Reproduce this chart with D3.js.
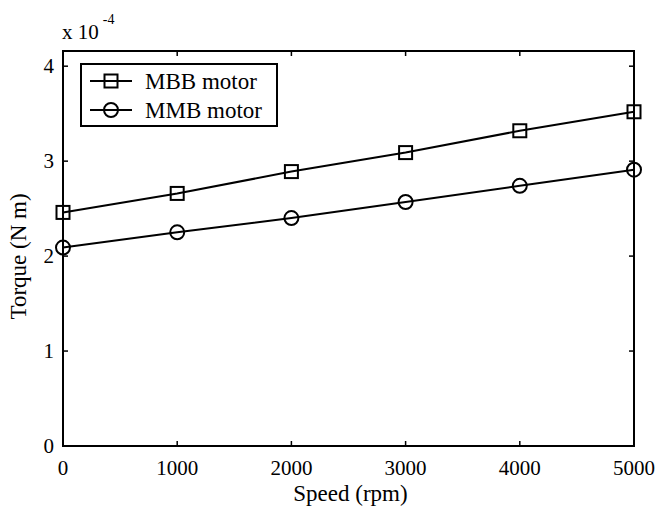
<!DOCTYPE html>
<html>
<head>
<meta charset="utf-8">
<script src="https://cdn.jsdelivr.net/npm/d3@7"></script>
<style>
  body { margin: 0; background: #fff; }
  text { font-family: "Liberation Serif", "DejaVu Serif", serif; fill: #000; }
</style>
</head>
<body>
<svg id="chart" width="655" height="506"></svg>
<script>
// speed (rpm)
const speeds = [0, 1000, 2000, 3000, 4000, 5000];
// torque x 1e-4 N m
const mbbTorque = [2.46, 2.66, 2.89, 3.09, 3.32, 3.52];
const mmbTorque = [2.09, 2.25, 2.40, 2.57, 2.74, 2.91];
const xTicks = [0, 1000, 2000, 3000, 4000, 5000];
const yTicks = [0, 1, 2, 3, 4];
const seriesNames = ['MBB motor', 'MMB motor'];

const svg = d3.select('#chart');
const plotLeft = 63, plotRight = 634, plotTop = 51, plotBottom = 446;

const x = d3.scaleLinear().domain([0, 5000]).range([plotLeft, plotRight]);
const y = d3.scaleLinear().domain([0, 4.16]).range([plotBottom, plotTop]);

// box
svg.append('rect')
    .attr('x', plotLeft).attr('y', plotTop)
    .attr('width', plotRight - plotLeft).attr('height', plotBottom - plotTop)
    .attr('fill', 'none').attr('stroke', '#000').attr('stroke-width', 2);

// inner ticks
const tickLen = 5;
const g = svg.append('g').attr('stroke', '#000').attr('stroke-width', 1.5);
xTicks.slice(1, -1).forEach(t => {
    g.append('line').attr('x1', x(t)).attr('x2', x(t)).attr('y1', plotBottom).attr('y2', plotBottom - tickLen);
    g.append('line').attr('x1', x(t)).attr('x2', x(t)).attr('y1', plotTop).attr('y2', plotTop + tickLen);
});
yTicks.slice(1).forEach(t => {
    g.append('line').attr('y1', y(t)).attr('y2', y(t)).attr('x1', plotLeft).attr('x2', plotLeft + tickLen);
    g.append('line').attr('y1', y(t)).attr('y2', y(t)).attr('x1', plotRight).attr('x2', plotRight - tickLen);
});

// tick labels
svg.append('g').selectAll('text').data(xTicks).join('text')
    .attr('x', d => x(d)).attr('y', plotBottom + 29)
    .attr('text-anchor', 'middle').attr('font-size', 21)
    .text(d => d);
svg.append('g').selectAll('text').data(yTicks).join('text')
    .attr('x', plotLeft - 9).attr('y', d => y(d) + 7)
    .attr('text-anchor', 'end').attr('font-size', 21)
    .text(d => d);

// exponent label
const ex = svg.append('text').attr('x', plotLeft - 1).attr('y', 39).attr('font-size', 21);
ex.append('tspan').text('x 10');
ex.append('tspan').attr('dx', 4).attr('dy', -15).attr('font-size', 14).text('-4');

// axis titles
svg.append('text').attr('x', (plotLeft + plotRight) / 2 + 2).attr('y', 501)
    .attr('text-anchor', 'middle').attr('font-size', 23).text('Speed (rpm)');
svg.append('text')
    .attr('transform', `translate(26,${(plotTop + plotBottom) / 2 + 8}) rotate(-90)`)
    .attr('text-anchor', 'middle').attr('font-size', 23).text('Torque (N m)');

const line = d3.line().x((d, i) => x(speeds[i])).y(d => y(d));

function drawMarker(sel, kind, cx, cy) {
    if (kind === 'square') {
        sel.append('rect').attr('x', cx - 6.5).attr('y', cy - 6.5)
            .attr('width', 13).attr('height', 13)
            .attr('fill', 'none').attr('stroke', '#000').attr('stroke-width', 2);
    } else {
        sel.append('circle').attr('cx', cx).attr('cy', cy).attr('r', 7)
            .attr('fill', 'none').attr('stroke', '#000').attr('stroke-width', 2);
    }
}

[[mbbTorque, 'square'], [mmbTorque, 'circle']].forEach(([vals, kind]) => {
    svg.append('path').datum(vals).attr('d', line)
        .attr('fill', 'none').attr('stroke', '#000').attr('stroke-width', 2);
    const mg = svg.append('g');
    vals.forEach((v, i) => drawMarker(mg, kind, x(speeds[i]), y(v)));
});

// legend
const lg = svg.append('g');
lg.append('rect').attr('x', 81).attr('y', 64).attr('width', 196).attr('height', 62)
    .attr('fill', '#fff').attr('stroke', '#000').attr('stroke-width', 2);
['square', 'circle'].forEach((kind, i) => {
    const ly = 81 + i * 29;
    lg.append('line').attr('x1', 90).attr('x2', 132).attr('y1', ly).attr('y2', ly)
        .attr('stroke', '#000').attr('stroke-width', 2);
    drawMarker(lg, kind, 111, ly);
    lg.append('text').attr('x', 145).attr('y', ly + 8).attr('font-size', 23).text(seriesNames[i]);
});
</script>
</body>
</html>
